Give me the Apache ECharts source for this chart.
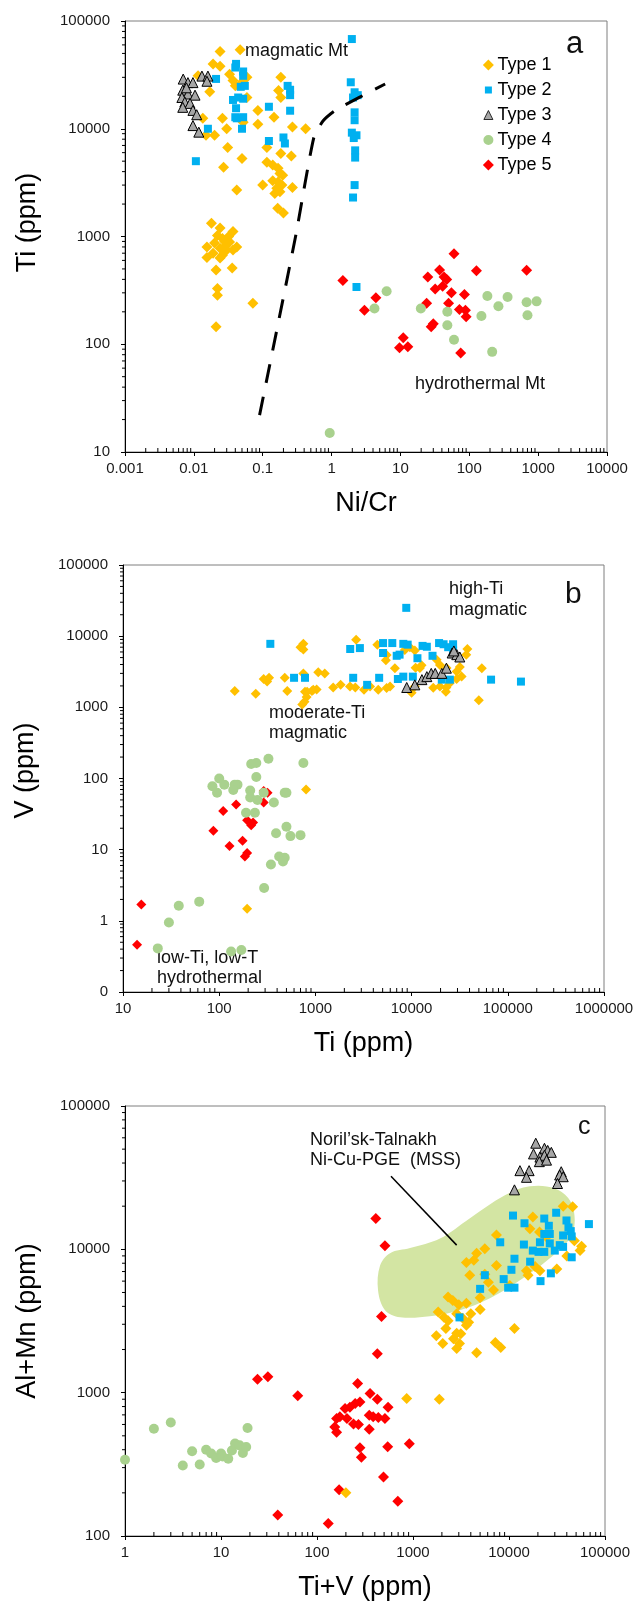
<!DOCTYPE html>
<html>
<head>
<meta charset="utf-8">
<script src="https://cdn.jsdelivr.net/npm/echarts/dist/echarts.min.js"></script>
<style>
html, body { margin: 0; padding: 0; background: #fff; }
#chart { width: 634px; height: 1606px; }
</style>
</head>
<body>
<div id="chart"></div>
<script>
// ---- panel a: Ni/Cr vs Ti ----
const a_type1 = [
  [0.024, 52000], [0.047, 54000], [0.019, 40000], [0.024, 38000], [0.0115, 31000], [0.037, 28000],
  [0.059, 30000], [0.04, 25000], [0.05, 27000], [0.033, 32000], [0.017, 22000], [0.059, 19500],
  [0.0135, 12500], [0.015, 8700], [0.02, 8700], [0.026, 12500], [0.03, 10000], [0.031, 6700],
  [0.027, 4400], [0.05, 5300], [0.042, 2700], [0.052, 11500], [0.085, 14800], [0.085, 11000],
  [0.146, 12800], [0.183, 30000], [0.17, 22700], [0.183, 19500], [0.27, 10400], [0.42, 10000],
  [0.115, 6700], [0.183, 5900], [0.26, 5600], [0.115, 4900], [0.14, 4600], [0.167, 4300],
  [0.178, 3850], [0.195, 3700], [0.14, 3300], [0.167, 3200], [0.19, 3000], [0.16, 2800],
  [0.178, 2600], [0.15, 2500], [0.1, 3000], [0.27, 2850], [0.165, 1830], [0.2, 1650],
  [0.018, 1330], [0.024, 1200], [0.037, 1110], [0.022, 1020], [0.026, 960], [0.033, 890],
  [0.02, 870], [0.0155, 800], [0.024, 780], [0.03, 750], [0.042, 800], [0.019, 700],
  [0.026, 670], [0.0155, 640], [0.021, 490], [0.036, 510], [0.024, 630], [0.037, 750],
  [0.022, 330], [0.022, 285], [0.072, 240], [0.021, 145], [0.028, 900], [0.032, 1000], [0.029, 820]
];
const a_type2 = [
  [0.041, 40000], [0.04, 37000], [0.021, 29000], [0.052, 34000], [0.052, 31000], [0.048, 24500],
  [0.055, 25000], [0.037, 18500], [0.044, 19500], [0.052, 19000], [0.041, 15500], [0.04, 12800],
  [0.052, 12800], [0.042, 12500], [0.05, 10000], [0.016, 10000], [0.0107, 5000], [0.123, 16000],
  [0.23, 25000], [0.25, 23000], [0.25, 20500], [0.25, 14700], [0.123, 7700], [0.2, 8300], [0.21, 7300],
  [1.97, 68000], [1.9, 27000], [2.16, 21800], [2.4, 20500], [2.05, 19500], [2.16, 14200], [2.16, 12000],
  [1.97, 9200], [2.3, 8700], [2.1, 8200], [2.2, 6300], [2.2, 5400], [2.16, 3000], [2.05, 2300], [2.3, 340]
];
const a_type3 = [
  [0.007, 28900], [0.0082, 26800], [0.0097, 26800], [0.0131, 30800], [0.016, 30800], [0.0155, 27600],
  [0.0069, 22800], [0.0082, 21000], [0.0104, 20500], [0.0067, 19500], [0.0074, 17700], [0.0088, 17200],
  [0.0069, 15800], [0.0097, 14800], [0.011, 13500], [0.0097, 10700], [0.0118, 9300], [0.0078, 24000]
];
const a_type4 = [
  [6.3, 310], [4.2, 215], [19.8, 215], [48, 200], [48, 150], [60, 110], [183, 280], [150, 183],
  [265, 225], [360, 275], [680, 245], [950, 250], [700, 186], [215, 85], [0.94, 15]
];
const a_type5 = [
  [1.46, 390], [4.4, 270], [3.0, 207], [60, 690], [37, 490], [43, 420], [47, 400], [25, 420],
  [127, 480], [680, 485], [32, 325], [41, 345], [55, 300], [85, 290], [24, 240], [50, 240],
  [72, 210], [88, 207], [90, 180], [30, 155], [28, 145], [11, 115], [9.7, 93], [12.8, 95], [75, 83]
];
// dashed boundary between magmatic and hydrothermal fields
const a_boundary = [[0.09, 22], [0.3, 1000], [0.55, 8200], [0.75, 11800], [1.15, 14900], [6, 26000]];

// ---- panel b: Ti vs V ----
const b_type1 = [
  [750, 7800], [750, 6500], [145, 1700], [240, 1550], [290, 2500], [330, 2600], [315, 2300], [480, 2600],
  [510, 1700], [750, 3000], [820, 1650], [920, 1700], [1030, 1780], [770, 1200], [730, 1100], [800, 70],
  [2650, 8900], [4400, 7600], [5400, 4600], [6700, 3550], [9600, 7000], [10800, 6300], [11000, 3600],
  [12700, 3900], [38000, 6600], [37000, 5500], [53700, 3550], [31700, 3700], [50000, 1260], [10000, 1600],
  [22700, 1650], [23000, 1900], [2600, 1900], [3200, 1770], [4500, 1770], [5500, 1870], [1530, 1900],
  [1830, 2070], [1070, 3100], [1250, 3000], [700, 7000], [8500, 6400], [12200, 3560], [18200, 4650],
  [19700, 3950], [23100, 3560], [29400, 3180], [33100, 2710], [29400, 2500], [25000, 2190], [19700, 1960],
  [16800, 1880], [10800, 1960], [5970, 1960], [3700, 1960], [2290, 1960], [950, 1760], [810, 1400],
  [780, 1650], [5500, 5450], [195, 1.48]
];
const b_type2 = [
  [340, 7800], [600, 2600], [780, 2600], [8800, 25000], [2300, 6600], [2900, 6800], [5050, 8000],
  [6300, 8000], [5050, 5800], [7000, 5300], [7500, 5500], [8200, 7800], [9100, 7600], [13000, 7300],
  [14400, 7100], [11500, 4900], [16500, 5300], [19300, 8000], [21500, 7700], [27000, 7700], [24000, 7000],
  [27000, 6300], [2470, 2600], [3450, 2070], [4600, 2600], [7200, 2500], [8200, 2700], [10300, 2700],
  [20600, 2450], [25000, 2450], [67000, 2450], [137000, 2300]
];
const b_type3 = [
  [8900, 1900], [10800, 2070], [12800, 2450], [14400, 2700], [16000, 3000], [17600, 3000],
  [20600, 3000], [23000, 3550], [26400, 5800], [29500, 5500], [31700, 5100], [27500, 6200]
];
const b_type4 = [
  [325, 190], [243, 165], [215, 160], [750, 165], [100, 100], [85, 78], [113, 82], [155, 82], [243, 105],
  [480, 63], [290, 63], [210, 68], [95, 63], [145, 82], [140, 69], [210, 54], [250, 50], [370, 46],
  [500, 63], [190, 33], [235, 33], [390, 17], [500, 21], [550, 15.5], [700, 16], [345, 6.2], [420, 8],
  [480, 7.7], [460, 6.8], [293, 2.9], [30, 0.95], [38, 1.63], [62, 1.86], [23, 0.41], [133, 0.37], [170, 0.39]
];
const b_type5 = [
  [15.5, 1.7], [14, 0.46], [87, 18.5], [128, 11.3], [110, 35], [150, 43], [175, 13.3], [185, 8],
  [195, 9], [195, 26], [225, 24], [215, 22], [290, 46], [293, 63], [318, 63], [290, 67]
];

// ---- panel c: Ti+V vs Al+Mn ----
const c_type1 = [
  [36700, 20000], [46000, 19800], [57000, 10500], [55000, 9800], [17700, 16800], [16500, 13900],
  [20800, 13200], [24600, 12200], [7400, 12600], [5600, 10100], [4600, 9400], [4300, 8400], [3600, 8100],
  [7400, 7700], [5600, 6700], [3900, 6600], [6100, 5900], [6900, 5200], [15200, 7100], [15800, 6600],
  [18700, 7600], [21000, 7100], [31500, 7300], [5000, 4600], [5000, 3800], [10200, 5600], [2320, 4650],
  [2600, 4400], [3000, 4100], [3600, 4200], [1830, 3650], [2100, 3360], [2320, 3170], [2850, 3560],
  [3300, 3300], [3800, 3100], [4000, 3550], [1750, 2500], [2200, 2800], [2850, 2600], [11400, 2800],
  [2040, 2200], [2640, 2380], [2850, 2030], [3150, 2580], [3050, 2200], [3600, 2950], [4600, 1900],
  [7200, 2240], [8200, 2070], [860, 910], [1880, 900], [200, 200], [48000, 11500], [40000, 9000]
];
const c_type2 = [
  [11000, 17200], [14500, 15200], [23300, 16400], [31000, 18000], [39700, 15900], [41600, 14200],
  [44000, 13400], [26000, 14600], [23300, 12800], [26600, 12800], [36600, 12500], [45000, 12300],
  [21000, 11200], [26600, 11000], [33800, 10700], [17700, 9800], [20300, 9600], [23300, 9600],
  [30000, 9800], [36600, 10400], [68000, 15000], [8100, 11200], [14300, 10800], [45000, 8800],
  [11400, 8600], [10600, 7200], [8800, 6200], [16600, 8200], [27300, 6800], [21300, 6000], [5600, 6600],
  [5000, 5300], [9800, 5400], [11400, 5400], [3050, 3350]
];
const c_type3 = [
  [19000, 55000], [23400, 50700], [25300, 49000], [27600, 47500], [18000, 46300], [21000, 44000],
  [23400, 45300], [20700, 40900], [24600, 41900], [13000, 35400], [16200, 35400], [15200, 31800],
  [11400, 26000], [35000, 34800], [33700, 33000], [36700, 32100], [32000, 28800]
];
const c_type4 = [
  [1, 340], [2, 560], [3, 620], [4, 310], [5, 390], [6, 315], [7, 400], [7.9, 376], [8.9, 350],
  [10, 376], [10.4, 359], [11.9, 346], [13, 395], [14, 442], [15.6, 429], [16.9, 379], [18.3, 418], [18.9, 567]
];
const c_type5 = [
  [24, 1240], [30.8, 1290], [63, 950], [39, 140], [410, 16400], [510, 10600], [470, 3400], [425, 1870],
  [265, 1160], [357, 985], [425, 900], [550, 790], [510, 660], [196, 775], [220, 790], [250, 840],
  [280, 860], [160, 660], [173, 680], [153, 576], [160, 530], [205, 660], [240, 605], [270, 600],
  [350, 695], [385, 680], [435, 670], [350, 555], [280, 412], [290, 355], [545, 420], [915, 440],
  [493, 258], [170, 210], [695, 175], [131, 122]
];
// Noril'sk-Talnakh MSS field outline and its leader line
const c_field = [
  [577, 9400], [454, 7700], [432, 5200], [511, 3760], [733, 3360], [1500, 3410], [3080, 3760],
  [6330, 4560], [13000, 6090], [26600, 8670], [43000, 11900], [48400, 15900], [43000, 22000],
  [30000, 26600], [16500, 27500], [9060, 23800], [3920, 16500], [1910, 11900], [931, 10200]
];
const c_leader = [[590, 32300], [2850, 10700]];

const FONT = 'Liberation Sans, Arial, sans-serif';
const COLORS = { t1: '#ffc000', t2: '#00b0f0', t3: '#a6a6a6', t4: '#a9d18e', t5: '#ff0000' };

function plainNum(v) {
  return String(+v.toPrecision(6));
}

// shift = how far the rotated y title moves up along the axis
function logAxis(grid, min, max, name, gap, isX, fmt, shift) {
  return {
    type: 'log', logBase: 10, gridIndex: grid, min: min, max: max, splitNumber: 10,
    name: name, nameLocation: 'middle', nameGap: gap,
    nameTextStyle: { fontFamily: FONT, fontSize: 27, color: '#000', padding: [0, 0, 0, (shift || 0) * 2] },
    axisLine: { show: true, onZero: false, lineStyle: { color: '#000', width: 1 } },
    axisTick: { show: true, length: 4, lineStyle: { color: '#000', width: 1 } },
    axisLabel: {
      fontFamily: FONT, fontSize: 15, color: '#1a1a1a', margin: isX ? 9 : 15,
      showMinLabel: true, showMaxLabel: true, formatter: fmt || plainNum
    },
    splitLine: { show: false }
  };
}

// minor ticks at 2..9 of every decade, x ticks point inwards, y ticks outwards
function minorTicks(xmin, xmax, ymin, ymax) {
  const out = [];
  for (let e = Math.round(Math.log10(xmin)); e < Math.round(Math.log10(xmax)); e++) {
    for (let k = 2; k <= 9; k++) out.push([k * Math.pow(10, e), ymin, 0]);
  }
  for (let e = Math.round(Math.log10(ymin)); e < Math.round(Math.log10(ymax)); e++) {
    for (let k = 2; k <= 9; k++) out.push([xmin, k * Math.pow(10, e), 1]);
  }
  return out;
}

function renderTick(params, api) {
  const p = api.coord([api.value(0), api.value(1)]);
  const shape = api.value(2) === 1
    ? { x1: p[0] - 3, y1: p[1], x2: p[0], y2: p[1] }
    : { x1: p[0], y1: p[1], x2: p[0], y2: p[1] - 4 };
  return { type: 'line', shape: shape, style: { stroke: '#000', lineWidth: 1 } };
}

function tickSeries(i, xmin, xmax, ymin, ymax) {
  return {
    type: 'custom', xAxisIndex: i, yAxisIndex: i, silent: true, clip: false, z: 3,
    data: minorTicks(xmin, xmax, ymin, ymax), renderItem: renderTick
  };
}

function pts(i, name, data, symbol, size, color, extra) {
  return Object.assign({
    type: 'scatter', name: name, xAxisIndex: i, yAxisIndex: i, data: data, clip: false,
    symbol: symbol, symbolSize: size, itemStyle: { color: color, opacity: 1 }
  }, extra || {});
}

function panel(i, t1, t2, t3, t4, t5, dsz) {
  return [
    pts(i, 'Type 5', t5, 'diamond', dsz, COLORS.t5),
    pts(i, 'Type 1', t1, 'diamond', dsz, COLORS.t1),
    pts(i, 'Type 2', t2, 'rect', 8, COLORS.t2),
    pts(i, 'Type 3', t3, 'triangle', 10, COLORS.t3, {
      itemStyle: { color: COLORS.t3, borderColor: '#000', borderWidth: 1, opacity: 1 }
    }),
    pts(i, 'Type 4', t4, 'circle', 10, COLORS.t4)
  ];
}

function text(x, y, str, size, lh) {
  return {
    type: 'text', x: x, y: y, silent: true,
    style: {
      text: str, fontFamily: FONT, fontSize: size, fill: '#111',
      align: 'left', verticalAlign: 'top', lineHeight: lh || size
    }
  };
}

const chart = echarts.init(document.getElementById('chart'), null, { renderer: 'canvas' });

const gridBase = { show: true, borderColor: '#7f7f7f', borderWidth: 1, backgroundColor: 'transparent', containLabel: false, outerBoundsMode: 'none' };

chart.setOption({
  animation: false,
  backgroundColor: '#fff',
  grid: [
    Object.assign({ left: 125, top: 21, width: 482, height: 431 }, gridBase),
    Object.assign({ left: 123, top: 565, width: 481, height: 427 }, gridBase),
    Object.assign({ left: 125, top: 1106, width: 480, height: 430 }, gridBase)
  ],
  xAxis: [
    logAxis(0, 0.001, 10000, 'Ni/Cr', 38, true),
    logAxis(1, 10, 1000000, 'Ti (ppm)', 38, true),
    logAxis(2, 1, 100000, 'Ti+V (ppm)', 38, true)
  ],
  yAxis: [
    logAxis(0, 10, 100000, 'Ti (ppm)', 84, false, null, 14),
    logAxis(1, 0.1, 100000, 'V (ppm)', 84, false, function (v) { return v < 1 ? '0' : plainNum(v); }, 8),
    logAxis(2, 100, 100000, 'Al+Mn (ppm)', 84, false)
  ],
  legend: {
    data: [
      { name: 'Type 1', icon: 'path://M0,0M12,12M6,0.5L11.5,6L6,11.5L0.5,6Z' },
      { name: 'Type 2', icon: 'path://M0,0M12,12M2.5,2.5L9.5,2.5L9.5,9.5L2.5,9.5Z' },
      { name: 'Type 3', icon: 'path://M0,0M12,12M6,1.5L10.5,10.5L1.5,10.5Z', itemStyle: { borderWidth: 0.8 } },
      { name: 'Type 4', icon: 'path://M0,0M12,12M6,1A5,5,0,1,1,5.99,1Z' },
      { name: 'Type 5', icon: 'path://M0,0M12,12M6,0.5L11.5,6L6,11.5L0.5,6Z' }
    ],
    orient: 'vertical', left: 477, top: 51, itemWidth: 12, itemHeight: 12, itemGap: 7,
    selectedMode: false,
    textStyle: { fontFamily: FONT, fontSize: 18, color: '#000', padding: [0, 0, 0, -2] }
  },
  graphic: [
    text(245, 42.5, 'magmatic Mt', 18),
    text(415, 375, 'hydrothermal Mt', 18),
    text(566, 28.7, 'a', 31),
    text(449, 579, 'high-Ti\nmagmatic', 18, 20.7),
    text(269, 703.5, 'moderate-Ti\nmagmatic', 18, 20),
    text(157, 948.5, 'low-Ti, low-T\nhydrothermal', 18, 20),
    text(565, 579.6, 'b', 30),
    text(310, 1129.3, 'Noril\u2019sk-Talnakh\nNi-Cu-PGE  (MSS)', 18, 20.7),
    text(578, 1114.8, 'c', 25)
  ],
  series: [
    {
      type: 'custom', xAxisIndex: 2, yAxisIndex: 2, silent: true, z: 1, data: [c_field[0]],
      renderItem: function (params, api) {
        return {
          type: 'polygon',
          shape: { points: c_field.map(function (p) { return api.coord(p); }), smooth: 0.35 },
          style: { fill: '#d3e5a3' }
        };
      }
    },
    {
      type: 'line', xAxisIndex: 2, yAxisIndex: 2, data: c_leader, symbol: 'none', silent: true,
      lineStyle: { color: '#000', width: 1.5 }
    },
    {
      type: 'line', xAxisIndex: 0, yAxisIndex: 0, data: a_boundary, symbol: 'none', silent: true,
      smooth: 0.2, lineStyle: { color: '#000', width: 3, type: [19, 14] }
    }
  ]
    .concat(panel(0, a_type1, a_type2, a_type3, a_type4, a_type5, 11))
    .concat(panel(1, b_type1, b_type2, b_type3, b_type4, b_type5, 10))
    .concat(panel(2, c_type1, c_type2, c_type3, c_type4, c_type5, 11))
    .concat([
      tickSeries(0, 0.001, 10000, 10, 100000),
      tickSeries(1, 10, 1000000, 0.1, 100000),
      tickSeries(2, 1, 100000, 100, 100000)
    ])
});
</script>
</body>
</html>
